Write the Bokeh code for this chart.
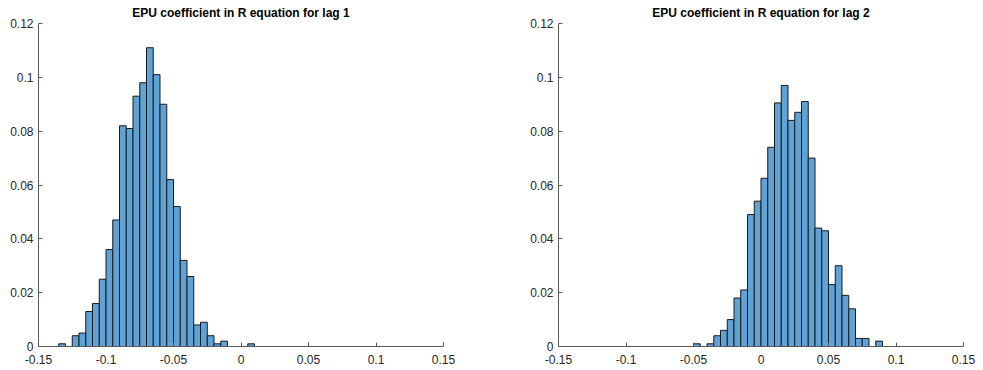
from bokeh.plotting import figure
from bokeh.layouts import row
from bokeh.models import FixedTicker
from bokeh.embed import file_html
from bokeh.resources import INLINE
import numpy as np

# ---- data ----
bin_width = 0.005
lag1_first_edge = -0.135
lag1_probs = [0.001, 0.0, 0.004, 0.005, 0.013, 0.016, 0.025, 0.036, 0.047, 0.082,
              0.081, 0.093, 0.098, 0.111, 0.101, 0.090, 0.062, 0.052, 0.032, 0.026,
              0.008, 0.009, 0.004, 0.001, 0.002, 0.0, 0.0, 0.0, 0.001]
lag2_first_edge = -0.05
lag2_probs = [0.001, 0.0, 0.001, 0.004, 0.006, 0.010, 0.018, 0.021, 0.049, 0.054,
              0.0625, 0.074, 0.0905, 0.097, 0.084, 0.087, 0.091, 0.070, 0.044, 0.043,
              0.023, 0.030, 0.019, 0.014, 0.003, 0.003, 0.0, 0.002]
titles = ["EPU coefficient in R equation for lag 1", "EPU coefficient in R equation for lag 2"]
x_ticks = [-0.15, -0.1, -0.05, 0, 0.05, 0.1, 0.15]
x_tick_labels = ["-0.15", "-0.1", "-0.05", "0", "0.05", "0.1", "0.15"]
y_ticks = [0, 0.02, 0.04, 0.06, 0.08, 0.1, 0.12]
y_tick_labels = ["0", "0.02", "0.04", "0.06", "0.08", "0.1", "0.12"]

FONT = "Liberation Sans"
AXC = "#5a5a5a"


def make_hist(title, first_edge, probs, width, border_left, border_right):
    p = figure(width=width, height=366, x_range=(-0.15, 0.15), y_range=(0, 0.12),
               output_backend="svg", toolbar_location=None,
               min_border_left=border_left, min_border_right=border_right,
               min_border_top=23, min_border_bottom=20)
    n = len(probs)
    left = first_edge + bin_width * np.arange(n)
    right = left + bin_width
    p.quad(left=left, right=right, bottom=0, top=probs,
           fill_color="#5FA2D5", line_color="#1a1a1a", line_width=1)
    p.title.text = title
    p.title.align = "center"
    p.title.text_font = FONT
    p.title.text_font_size = "12px"
    p.title.text_font_style = "bold"
    p.title.text_color = "#000000"
    p.title.standoff = 7
    p.xgrid.visible = False
    p.ygrid.visible = False
    p.outline_line_color = None
    for ax in (p.xaxis[0], p.yaxis[0]):
        ax.axis_line_color = AXC
        ax.major_tick_line_color = AXC
        ax.major_tick_in = 4
        ax.major_tick_out = 0
        ax.minor_tick_line_color = None
        ax.major_label_text_font = FONT
        ax.major_label_text_font_size = "12px"
        ax.major_label_text_color = "#262626"
    p.xaxis[0].major_label_standoff = 8
    p.yaxis[0].major_label_standoff = 5
    p.xaxis[0].ticker = FixedTicker(ticks=x_ticks)
    p.xaxis[0].major_label_overrides = dict(zip(x_ticks, x_tick_labels))
    p.yaxis[0].ticker = FixedTicker(ticks=y_ticks)
    p.yaxis[0].major_label_overrides = dict(zip(y_ticks, y_tick_labels))
    return p


p1 = make_hist(titles[0], lag1_first_edge, lag1_probs, 500, 38, 57)
p2 = make_hist(titles[1], lag2_first_edge, lag2_probs, 475, 58, 12)
p = row(p1, p2)

open("out.html", "w").write(file_html(p, INLINE))
